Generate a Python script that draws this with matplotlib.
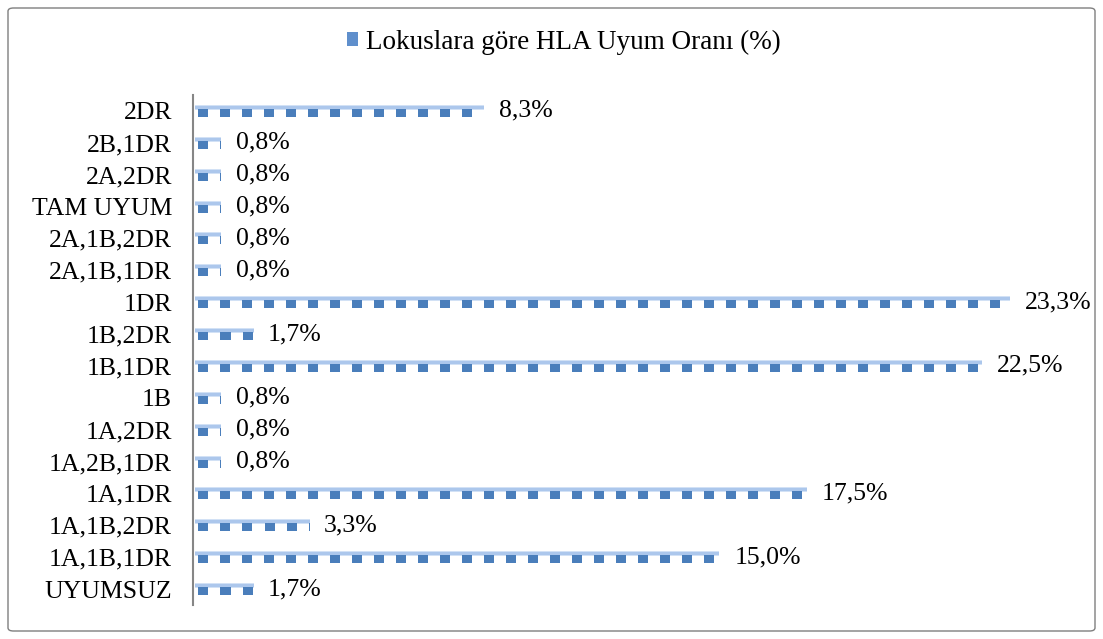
import matplotlib.pyplot as plt
import numpy as np
from matplotlib.patches import Patch, FancyBboxPatch

# %% data (bottom to top)
categories = ['UYUMSUZ', '1A,1B,1DR', '1A,1B,2DR', '1A,1DR', '1A,2B,1DR', '1A,2DR',
              '1B', '1B,1DR', '1B,2DR', '1DR', '2A,1B,1DR', '2A,1B,2DR',
              'TAM UYUM', '2A,2DR', '2B,1DR', '2DR']
values = [1.7, 15.0, 3.3, 17.5, 0.8, 0.8, 0.8, 22.5, 1.7, 23.3, 0.8, 0.8, 0.8, 0.8, 0.8, 8.3]
series_name = 'Lokuslara göre HLA Uyum Oranı (%)'

W, H = 1103, 639
font = 'Liberation Serif'
dark = np.array([74, 126, 187]) / 255
light = np.array([172, 199, 236]) / 255
pale = np.array([210, 225, 245]) / 255
NROWS = 12


def pattern(ncols, nrows=NROWS):
    # light band on top, dark squares below (mimics the Excel pattern fill)
    img = np.ones((nrows, ncols, 3))
    img[0] = pale
    img[1:4] = light
    img[4] = pale
    for c in range(ncols):
        if 3 <= (c % 22) <= 12:
            img[4:, c] = dark
    return img


# %% figure
fig = plt.figure(figsize=(W / 100, H / 100), dpi=100)
ax = fig.add_axes([193 / W, (H - 605) / H, (1070 - 193) / W, 510 / H])

y = np.arange(len(categories))
xmax = 25
bar_h = 0.38
bars = ax.barh(y, values, height=bar_h, color='none', edgecolor='none')
ax.set_xlim(0, xmax)
ax.set_ylim(-0.5, len(categories) - 0.5)

# snap the pattern image of every bar to whole screen pixels so it stays crisp
inv = ax.transData.inverted()
px_per_unit = (1070 - 193) / xmax
for b, v, yy in zip(bars, values, y):
    x0, ytop = ax.transData.transform((0, yy + bar_h / 2))
    x1, _ = ax.transData.transform((v, yy))
    x0, x1, ytop = round(x0) + 2, round(x1), round(ytop)
    ybot = ytop - NROWS
    (dx0, dyb), (dx1, dyt) = inv.transform([(x0, ybot), (x1, ytop)])
    ax.imshow(pattern(max(x1 - x0, 1)), extent=(dx0, dx1, dyb, dyt),
              aspect='auto', interpolation='nearest', origin='upper', zorder=2)
    ax.text(v + 15 / px_per_unit, yy, f'{v:.1f}%'.replace('.', ','), va='center',
            ha='left', fontsize=18.5, fontname=font)

ax.set_xlim(0, xmax)
ax.set_ylim(-0.5, len(categories) - 0.5)
ax.set_yticks(y, categories, fontname=font, fontsize=18.5)
ax.tick_params(axis='y', length=0, pad=15)
ax.set_xticks([])
for s in ['top', 'right', 'bottom']:
    ax.spines[s].set_visible(False)
ax.spines['left'].set_color('#868686')
ax.spines['left'].set_linewidth(1.5)
ax.spines['left'].set_zorder(3)

fig.legend(handles=[Patch(facecolor='#5f8fcc', edgecolor='none')], labels=[series_name],
           loc='center', bbox_to_anchor=(564 / W, 1 - 42 / H), frameon=False,
           prop={'family': font, 'size': 19.5}, handlelength=0.4, handleheight=0.4,
           handletextpad=0.3)

fig.patches.append(FancyBboxPatch((8 / W, 8 / H), (W - 16) / W, (H - 16) / H,
                                  boxstyle='round,pad=0,rounding_size=0.005',
                                  transform=fig.transFigure, facecolor='none',
                                  edgecolor='#7f7f7f', linewidth=1))

fig.savefig('out.png', dpi=100)
plt.close()
